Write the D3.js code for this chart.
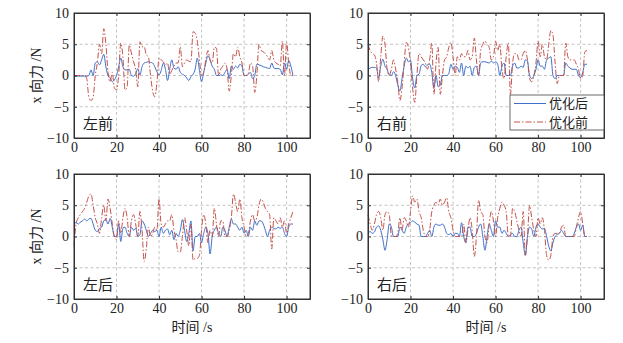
<!DOCTYPE html>
<html>
<head>
<meta charset="utf-8">
<script src="https://cdn.jsdelivr.net/npm/d3@7"></script>
<style>
  body { margin: 0; background: #fff; }
  svg text { font-family: "Liberation Serif", "Noto Sans CJK SC", serif; fill: #222; }
</style>
</head>
<body>
<svg id="chart" width="623" height="343"></svg>
<script>
// sample times (s), one reading per second
const time = d3.range(0, 104);

const seriesNames = ["优化后", "优化前"];
const panelNames = ["左前", "右前", "左后", "右后"];
const xTicks = [0, 20, 40, 60, 80, 100];
const yTicks = [-10, -5, 0, 5, 10];

// 左前
const lfAfter = [-0.1,-0.1,-0.1,-0.1,-0.1,-0.1,-0.1,0,0.9,0,2.0,2.2,1.7,2.5,3.4,1.4,0,-0.4,-1.0,-0.7,
  0,1.4,2.8,1.4,0.9,0.9,1.0,0,-0.1,0.3,1.1,0.1,1.4,2.0,2.1,2.2,2.1,2.0,1.4,0.6,
  0.1,0.8,2.0,1.0,-0.8,1.0,2.5,1.2,1.0,1.4,0.5,0.2,0,-0.4,-0.8,-0.2,0.2,1.0,2.8,0.8,
  -1.0,0.5,2.0,3.2,2.5,1.5,1.0,0,0,0.1,0,0.5,1.0,-0.5,1.5,1.0,1.5,1.2,1.8,1.5,
  0,0,0.2,0.5,-0.5,0,1.8,1.7,1.6,1.4,1.3,1.2,1.1,2.0,1.2,1.1,1.1,1.0,0.1,2.0,
  1.0,2.4,1.5,0];
const lfBefore = [0,0,0,0,0,0,-0.5,-3.5,-4.0,-3.5,0,2.0,5.0,3.5,7.5,5.0,0.5,-1.0,0.5,-2.0,
  -2.3,0,5.2,3.0,-2.3,-1.8,4.9,3.6,2.2,1.0,-1.8,5.4,4.6,4.6,3.3,3.0,0,-2.5,-3.4,-1.2,
  2.8,2.5,2.2,1.7,2.0,0.2,0.8,1.5,2.0,2.0,4.6,1.4,2.0,2.5,2.3,2.2,7.0,6.8,5.5,2.5,
  0,0.5,2.5,4.0,2.5,2.0,4.5,4.4,0,1.0,1.5,2.0,1.0,-2.5,0,3.5,3.0,4.5,3.0,2.0,
  0,0,0.3,2.0,1.5,-2.7,0,5.0,4.0,3.8,3.5,3.0,2.5,4.0,2.5,2.0,1.8,1.5,5.5,0,
  5.3,2.0,0,0];

// 右前
const rfAfter = [1.0,1.2,1.3,1.3,1.2,-0.4,1.5,2.6,1.5,1.0,0.1,0,0.6,0,-1.5,-2.5,-0.5,1.5,2.8,2.2,
  2.4,-0.5,-2.0,0,0.2,1.6,1.8,1.4,1.7,1.8,0.5,-2.0,0,-1.8,-1.5,0,0,0,0.3,1.8,
  1.0,1.5,1.3,0.5,2.0,0,1.5,1.2,1.5,0,1.3,1.5,0,2.0,2.2,2.2,2.1,2.0,2.3,2.0,
  2.2,1.8,0,1.5,2.0,0,0,0,1.5,2.0,1.2,1.2,1.5,1.3,2.5,2.3,0,-0.5,0,1.0,
  2.5,1.5,1.5,1.0,2.5,2.8,3.0,0,-0.5,0,0,0,0,2.0,1.5,1.2,1.0,1.0,1.0,0,
  -0.3,0.5,1.8,1.8];
const rfBefore = [5.0,4.0,3.5,3.3,2.0,-1.0,3.0,6.3,5.0,1.0,0,1.0,2.5,1.0,-1.0,-4.0,-2.0,2.0,5.3,4.5,
  2.0,-2.0,-4.3,0,3.5,3.0,2.5,2.0,1.0,2.5,5.2,-3.0,2.0,4.5,-3.0,0,2.5,3.0,4.5,5.3,
  3.0,0,3.0,2.5,3.5,3.0,3.0,4.0,2.5,3.0,6.0,2.5,0,4.0,5.0,5.5,5.0,4.5,2.5,3.0,
  5.5,4.0,5.0,1.0,-0.5,3.0,5.2,-3.0,2.0,3.5,3.5,2.5,2.5,3.5,4.0,2.5,-0.5,-1.0,0,2.0,
  5.5,3.0,5.0,3.0,2.5,5.0,7.2,6.5,2.0,-1.3,0,0,0,5.2,3.0,2.5,2.5,2.5,1.8,1.0,
  -0.5,0,3.8,4.0];

// 左后
const lrAfter = [2.2,2.2,2.0,2.3,2.5,2.8,2.5,2.8,2.9,2.0,1.0,0.8,1.3,1.5,2.5,2.7,2.0,2.9,1.5,0,
  0,2.0,-0.8,1.3,1.5,0.5,0,1.5,1.0,1.3,0,0.3,2.5,2.0,1.0,0,0.5,1.0,0.8,1.0,
  0,1.5,0.5,1.0,1.2,0.3,1.0,-0.5,0.5,0,1.0,2.7,1.0,-0.8,0.5,2.5,-2.3,0,0,0.5,
  -1.0,0.5,1.5,0.5,-2.8,0,1.0,1.5,0.5,0,1.5,1.0,0,1.5,2.8,2.0,2.0,1.5,1.0,1.5,
  0.5,1.0,0,1.5,1.0,2.5,1.8,2.5,2.5,2.0,1.0,0,1.0,1.5,1.3,1.2,1.5,1.3,1.5,0.5,
  0,1.5,2.0,2.0];
const lrBefore = [-1.5,2.0,3.0,3.5,4.0,4.5,5.5,6.5,6.8,5.0,3.0,2.0,0.5,3.0,5.0,2.5,6.0,4.5,2.0,0,
  -0.5,2.5,0.5,3.0,4.5,3.0,0,2.5,3.5,2.0,0,4.0,1.0,-4.0,-2.0,1.5,0,0.5,1.5,1.0,
  6.0,2.0,1.5,2.0,2.5,2.5,3.5,1.0,-0.5,-2.5,-2.5,0,3.0,1.0,-1.5,2.0,-3.8,-3.5,-3.5,-3.0,
  1.0,3.5,2.0,-1.0,1.0,0,4.5,2.0,0,2.5,2.5,0,0,1.0,3.0,6.8,5.5,4.0,6.0,3.0,
  1.5,0,0.5,2.5,3.5,2.5,3.0,5.0,6.0,5.5,4.5,4.0,3.5,-2.0,3.0,2.5,2.0,3.0,1.5,2.5,
  0.5,2.0,3.0,4.0];

// 右后
const rrAfter = [0.5,0.8,0.5,0.7,1.5,1.7,1.0,-0.5,-2.2,-0.5,2.0,1.5,0,0,0,1.5,1.0,0.5,1.5,2.0,
  2.2,2.5,2.3,2.0,1.8,0,0,0,0.5,1.0,0,1.5,2.0,1.8,1.8,2.0,1.5,0.5,0.3,0.5,
  0,0.5,0.5,0,2.2,0,-1.0,1.5,1.5,0,0,0.5,1.5,2.0,0,-2.2,0,2.0,1.0,0,
  2.5,1.5,1.5,0.5,1.0,0.5,0,0.3,0.5,0,0,1.0,1.5,-1.0,-3.0,0,1.5,1.2,0,1.5,
  2.0,1.5,1.2,1.3,0,-1.5,-2.3,-1.0,0,0.3,0.5,1.0,0.5,0,0,0,0,0.5,1.5,2.0,
  1.0,1.8,0,0];
const rrBefore = [3.5,2.0,1.0,2.0,3.5,4.0,3.0,1.0,3.5,4.0,3.5,0,0,0,0.5,3.0,1.0,3.0,2.5,1.5,
  4.0,6.5,5.5,6.0,4.0,3.0,1.0,0,0,1.0,4.0,5.0,5.5,5.0,6.0,5.0,5.5,6.2,4.0,3.0,
  1.0,0,0,0,0,2.0,-1.0,1.0,3.0,1.0,-3.2,0,5.8,4.0,3.5,0,-1.0,2.0,4.0,2.5,
  0,3.0,4.5,5.5,5.0,4.0,0,0,4.5,4.0,2.5,1.0,0,4.0,-3.0,0,5.0,3.0,1.0,0,
  3.0,2.0,3.0,1.0,-3.0,-3.8,-3.0,0,0.5,0.5,0.5,1.5,1.8,0,0,0,0,0,1.5,3.0,
  4.0,2.0,0,0];

const panelData = [
  [lfAfter, lfBefore],
  [rfAfter, rfBefore],
  [lrAfter, lrBefore],
  [rrAfter, rrBefore]
];

const colors = ["#3f6fca", "#c4524b"];
const dashes = [null, "6,2,1.5,2"];

const svg = d3.select("#chart");
const pw = 236, ph = 125;
const origins = [[74, 13], [368, 13], [74, 174], [368, 174]];

const x = d3.scaleLinear().domain([0, 111]).range([0, pw]);
const y = d3.scaleLinear().domain([-10, 10]).range([ph, 0]);

const line = d3.line()
  .x((d, i) => x(time[i]))
  .y(d => y(d))
  .curve(d3.curveMonotoneX);

panelData.forEach((series, p) => {
  const [ox, oy] = origins[p];
  const g = svg.append("g").attr("transform", `translate(${ox},${oy})`);

  // grid
  g.append("g").selectAll("line.vg")
    .data(xTicks.filter(t => t > 0))
    .enter().append("line")
    .attr("x1", d => x(d)).attr("x2", d => x(d))
    .attr("y1", 0).attr("y2", ph)
    .attr("stroke", "#b4b4b4").attr("stroke-width", 0.8)
    .attr("stroke-dasharray", "3,2.5");
  g.append("g").selectAll("line.hg")
    .data(yTicks.filter(t => t > -10 && t < 10))
    .enter().append("line")
    .attr("x1", 0).attr("x2", pw)
    .attr("y1", d => y(d)).attr("y2", d => y(d))
    .attr("stroke", "#b4b4b4").attr("stroke-width", 0.8)
    .attr("stroke-dasharray", "3,2.5");

  // series
  series.forEach((vals, s) => {
    g.append("path")
      .datum(vals)
      .attr("d", line)
      .attr("fill", "none")
      .attr("stroke", colors[s])
      .attr("stroke-width", 1)
      .attr("stroke-dasharray", dashes[s]);
  });

  // axes, ticks point inwards
  g.append("g").attr("transform", `translate(0,${ph})`)
    .call(d3.axisBottom(x).tickValues(xTicks).tickSizeInner(-3).tickSizeOuter(0).tickPadding(4));
  g.append("g")
    .call(d3.axisLeft(y).tickValues(yTicks).tickSizeInner(-3).tickSizeOuter(0).tickPadding(5));
  g.append("g")
    .call(d3.axisTop(x).tickValues(xTicks).tickSizeInner(-3).tickSizeOuter(0).tickFormat(""));
  g.append("g").attr("transform", `translate(${pw},0)`)
    .call(d3.axisRight(y).tickValues(yTicks).tickSizeInner(-3).tickSizeOuter(0).tickFormat(""));

  g.selectAll(".tick text")
    .style("font-family", "'Liberation Serif', serif")
    .style("font-size", "14px")
    .attr("fill", "#222");
  g.selectAll(".domain").attr("stroke", "#333");
  g.selectAll(".tick line").attr("stroke", "#333");

  g.append("rect")
    .attr("width", pw).attr("height", ph)
    .attr("fill", "none").attr("stroke", "#333").attr("stroke-width", 1);

  // panel name
  g.append("text")
    .attr("x", 9).attr("y", ph - 9)
    .style("font-size", "15px")
    .style("font-family", "'Noto Sans CJK SC', sans-serif")
    .text(panelNames[p]);

  // y label on left column
  if (p % 2 === 0) {
    g.append("text")
      .attr("transform", `translate(${-33},${ph / 2}) rotate(-90)`)
      .attr("text-anchor", "middle")
      .style("font-size", "14px")
      .text("x 向力 /N");
  }
  // x label on bottom row
  if (p >= 2) {
    g.append("text")
      .attr("x", pw / 2).attr("y", ph + 33)
      .attr("text-anchor", "middle")
      .style("font-size", "14px")
      .text("时间 /s");
  }

  // legend in the 右前 panel
  if (p === 1) {
    const lg = g.append("g").attr("transform", `translate(${142},${82})`);
    lg.append("rect")
      .attr("width", 94).attr("height", 35)
      .attr("fill", "#fff").attr("stroke", "#444").attr("stroke-width", 0.8);
    seriesNames.forEach((name, s) => {
      const row = lg.append("g").attr("transform", `translate(0,${8.5 + s * 18.5})`);
      row.append("line")
        .attr("x1", 4).attr("x2", 36)
        .attr("stroke", colors[s]).attr("stroke-width", 1)
        .attr("stroke-dasharray", dashes[s]);
      row.append("text")
        .attr("x", 39).attr("y", 4.5)
        .style("font-size", "13px")
        .style("font-family", "'Noto Sans CJK SC', sans-serif")
        .text(name);
    });
  }
});
</script>
</body>
</html>
